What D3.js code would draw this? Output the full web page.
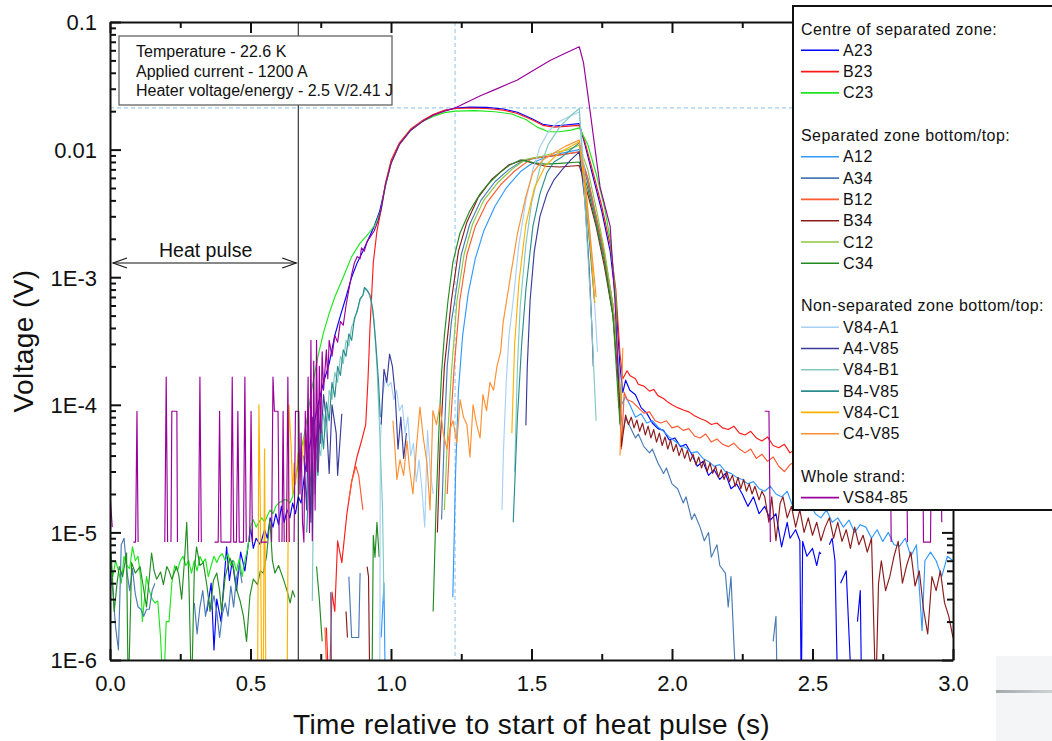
<!DOCTYPE html>
<html><head><meta charset="utf-8">
<script src="https://cdn.jsdelivr.net/npm/d3@7"></script>
<style>
body{margin:0;background:#fff}
svg{display:block}
text{font-family:"Liberation Sans",Arial,Helvetica,sans-serif;fill:#111}
</style>
</head><body>
<svg id="chart" width="1052" height="741"></svg>
<script>
// ---------------- DATA ([time s, voltage V], null = gap) ----------------
const A23 = [[0.345,2.4e-6],[0.36,4e-6],[0.37,1.2e-6],[0.38,3e-6],[0.395,2e-6],[0.415,7.7e-6],[0.425,4.2e-6],[0.435,6e-6],[0.45,3.5e-6],[0.465,7e-6],[0.48,5e-6],[0.5,1.1e-5],[0.51,7.5e-6],[0.52,9e-6],[0.535,8e-6],[0.55,1.05e-5],[0.56,9e-6],[0.57,1.3e-5],[0.58,1.1e-5],[0.59,1.4e-5],[0.6,1.15e-5],[0.61,1.6e-5],[0.62,1.2e-5],[0.63,1.5e-5],[0.64,1.3e-5],[0.65,1.7e-5],[0.66,1.4e-5],[0.67,1.9e-5],[0.68,1.7e-5],[0.69,2.6e-5],[0.7,3.7e-5],[0.72,6e-5],[0.735,9e-5],[0.76,1.5e-4],[0.78,2.1e-4],[0.8,3.5e-4],[0.82,5e-4],[0.84,7e-4],[0.86,1.0e-3],[0.88,1.3e-3],[0.9,1.6e-3],[0.92,2.0e-3],[0.94,2.5e-3],[0.96,3.3e-3],[0.98,5.2e-3],[1.0,7.8e-3],[1.03,1.1e-2],[1.07,1.42e-2],[1.11,1.65e-2],[1.15,1.87e-2],[1.19,2.02e-2],[1.23,2.12e-2],[1.28,2.15e-2],[1.34,2.14e-2],[1.4,2.08e-2],[1.45,1.96e-2],[1.5,1.75e-2],[1.54,1.58e-2],[1.58,1.53e-2],[1.62,1.56e-2],[1.67,1.6e-2],[1.69,1.1e-2],[1.72,6e-3],[1.75,3.3e-3],[1.78,1.6e-3],[1.8,6.6e-4],[1.815,2e-4],[1.825,1.25e-4],[1.835,1.56e-4],[1.85,1.3e-4],[1.87,1.2e-4],[1.89,9.5e-5],[1.91,8.6e-5],[1.93,7.2e-5],[1.95,6.5e-5],[1.97,6.3e-5],[1.99,5.3e-5],[2.01,5.5e-5],[2.03,4.7e-5],[2.05,4.9e-5],[2.07,4.1e-5],[2.09,3.3e-5],[2.11,3.6e-5],[2.13,2.8e-5],[2.15,3.1e-5],[2.17,2.6e-5],[2.19,2.9e-5],[2.21,2.2e-5],[2.23,2.4e-5],[2.25,2e-5],[2.27,1.6e-5],[2.29,1.9e-5],[2.31,1.4e-5],[2.33,1.6e-5],[2.35,1.25e-5],[2.37,1.4e-5],[2.39,7.7e-6],[2.41,1.2e-5],[2.42,9e-6],[2.44,1.05e-5],[2.455,8.6e-6],[2.46,5e-7],[2.465,8.5e-6],[2.48,6.5e-6],[2.5,7.5e-6],[2.515,5.5e-6],[2.525,7e-6],[2.53,6.8e-6],null,[2.56,8e-6],[2.57,9e-6],[2.58,6e-6],[2.59,5e-7],null,[2.6,4e-6],[2.62,5e-6],[2.64,5e-7],null,[2.66,2e-6],[2.67,3.5e-6],[2.675,5e-7]];

const B23 = [[0.77,1.8e-6],[0.78,5e-7],[0.79,3.4e-6],[0.8,2.4e-6],[0.81,8.6e-6],[0.825,5.8e-6],[0.843,1.4e-5],[0.86,2.5e-5],[0.879,3.9e-5],[0.896,5.3e-5],[0.91,7e-5],[0.918,1.56e-4],[0.925,3.9e-4],[0.937,1.3e-3],[0.95,2.3e-3],[0.965,3.4e-3],[0.98,5.4e-3],[1.0,8.2e-3],[1.03,1.13e-2],[1.07,1.45e-2],[1.11,1.68e-2],[1.15,1.88e-2],[1.19,2.03e-2],[1.23,2.1e-2],[1.28,2.12e-2],[1.34,2.1e-2],[1.4,2.04e-2],[1.45,1.92e-2],[1.5,1.72e-2],[1.54,1.55e-2],[1.58,1.5e-2],[1.62,1.52e-2],[1.67,1.55e-2],[1.69,1.15e-2],[1.72,6.5e-3],[1.75,3.6e-3],[1.78,1.8e-3],[1.8,8e-4],[1.815,2.5e-4],[1.825,1.6e-4],[1.84,1.85e-4],[1.85,1.7e-4],[1.87,1.6e-4],[1.88,1.45e-4],[1.9,1.4e-4],[1.92,1.28e-4],[1.935,1.32e-4],[1.95,1.18e-4],[1.97,1.12e-4],[1.985,1.05e-4],[2.0,1.0e-4],[2.02,9.5e-5],[2.04,9.1e-5],[2.06,8.8e-5],[2.08,8.2e-5],[2.1,7.8e-5],[2.12,7.5e-5],[2.14,7.0e-5],[2.16,7.2e-5],[2.18,6.6e-5],[2.2,6.4e-5],[2.22,6.8e-5],[2.24,6.0e-5],[2.26,5.8e-5],[2.28,6.2e-5],[2.3,5.5e-5],[2.32,5.2e-5],[2.34,5.6e-5],[2.36,4.8e-5],[2.38,4.6e-5],[2.4,4.9e-5],[2.42,4.2e-5],[2.44,4.5e-5],[2.47,4.0e-5],[2.55,3.7e-5],[2.65,3.4e-5],[2.75,3.2e-5],[2.85,3.0e-5],[2.95,2.8e-5],[3.0,2.7e-5]];

const C23 = [[0.0,5.7e-6],[0.01,4.5e-6],[0.02,6e-6],[0.03,5e-6],[0.04,4e-6],[0.05,6.5e-6],[0.06,5.5e-6],[0.07,5.2e-6],[0.08,7.7e-6],[0.09,6e-6],[0.1,6.5e-6],[0.11,4.2e-6],[0.115,2e-6],[0.13,4.5e-6],[0.14,3.5e-6],[0.15,3e-6],[0.16,2.8e-6],[0.17,2.9e-6],[0.18,1.5e-6],[0.19,5e-7],[0.2,2e-6],[0.21,2e-6],[0.22,4e-6],[0.23,5.5e-6],[0.24,5e-6],[0.25,6e-6],[0.26,6.5e-6],[0.27,5.5e-6],[0.28,6e-6],[0.29,4.8e-6],[0.3,6e-6],[0.31,5e-6],[0.32,6.5e-6],[0.33,5.8e-6],[0.34,6.2e-6],[0.35,4.5e-6],[0.36,5.5e-6],[0.37,6.5e-6],[0.38,5.8e-6],[0.39,6.5e-6],[0.4,6.8e-6],[0.41,6e-6],[0.42,6.8e-6],[0.43,5.5e-6],[0.44,6e-6],[0.45,5e-6],[0.46,6.2e-6],[0.47,4.5e-6],[0.48,6e-6],[0.49,7.5e-6],[0.5,1.1e-5],[0.51,1.26e-5],[0.52,1.1e-5],[0.53,1.2e-5],[0.54,1.3e-5],[0.55,1.2e-5],[0.56,1.35e-5],[0.57,1.5e-5],[0.58,1.4e-5],[0.59,1.6e-5],[0.6,1.7e-5],[0.61,1.75e-5],[0.62,1.8e-5],[0.63,1.8e-5],[0.64,1.7e-5],[0.65,1.9e-5],[0.66,2.6e-5],[0.67,3.5e-5],[0.68,4.5e-5],[0.69,5.6e-5],[0.7,7.5e-5],[0.72,1.4e-4],[0.74,2.4e-4],[0.76,3.7e-4],[0.78,5.2e-4],[0.8,7e-4],[0.83,1.0e-3],[0.86,1.45e-3],[0.89,1.85e-3],[0.92,2.2e-3],[0.945,2.6e-3],[0.965,3.4e-3],[0.98,5.2e-3],[1.0,7.8e-3],[1.03,1.1e-2],[1.07,1.42e-2],[1.11,1.65e-2],[1.15,1.82e-2],[1.19,1.95e-2],[1.23,2.0e-2],[1.3,2.02e-2],[1.37,1.98e-2],[1.43,1.9e-2],[1.48,1.72e-2],[1.52,1.5e-2],[1.56,1.38e-2],[1.6,1.38e-2],[1.64,1.42e-2],[1.67,1.48e-2],[1.7,1.1e-2],[1.73,6.5e-3],[1.76,3.5e-3],[1.78,2e-3],[1.8,7e-4],[1.81,9.4e-5]];

const A12 = [[0.965,1.5e-6],[0.975,4e-6],[0.98,5e-7],null,[1.22,3.1e-6],[1.23,3e-5],[1.24,1.3e-4],[1.255,3.5e-4],[1.275,7.5e-4],[1.3,1.4e-3],[1.33,2.3e-3],[1.37,3.6e-3],[1.41,5e-3],[1.46,6.7e-3],[1.505,7.9e-3],[1.55,8.7e-3],[1.6,9.3e-3],[1.67,1.0e-2],[1.7,6e-3],[1.73,3e-3],[1.76,1.5e-3],[1.79,6e-4],[1.81,2e-4],[1.82,1e-4],[1.835,1.16e-4],[1.85,1.0e-4],[1.87,8e-5],[1.89,8.5e-5],[1.91,7.2e-5],[1.93,7.5e-5],[1.95,6.7e-5],[1.97,6.2e-5],[1.99,5.6e-5],[2.01,5.2e-5],[2.03,4.8e-5],[2.05,4.6e-5],[2.07,4.2e-5],[2.09,4.3e-5],[2.11,3.8e-5],[2.13,3.6e-5],[2.15,3.3e-5],[2.17,3.4e-5],[2.19,3e-5],[2.21,2.9e-5],[2.23,2.7e-5],[2.25,2.6e-5],[2.27,2.4e-5],[2.29,2.5e-5],[2.31,2.2e-5],[2.33,2.1e-5],[2.35,2.3e-5],[2.37,2.0e-5],[2.39,1.9e-5],[2.41,2.1e-5],[2.43,1.6e-5],[2.45,1.8e-5],[2.47,1.5e-5],[2.49,1.7e-5],[2.51,1.4e-5],[2.53,1.3e-5],[2.55,1.5e-5],[2.57,1.2e-5],[2.59,1.3e-5],[2.61,1.1e-5],[2.63,1.25e-5],[2.65,1.0e-5],[2.67,1.15e-5],[2.69,1.1e-5],[2.71,9e-6],[2.73,1.05e-5],[2.75,8.5e-6],[2.77,1e-5],[2.79,8e-6],[2.81,7.8e-6],[2.83,9e-6],[2.85,6.5e-6],[2.87,8e-6],[2.89,1.7e-6],[2.9,6e-6],[2.92,7e-6],[2.94,6e-6],[2.96,4.5e-6],[2.98,6.5e-6],[3.0,6e-6]];

const A34 = [[0.0,5e-6],[0.01,3.5e-6],[0.02,1.8e-6],[0.03,1.2e-6],[0.04,8e-6],[0.05,9e-6],[0.06,5e-6],[0.07,3.5e-6],[0.08,5.2e-6],[0.09,3.3e-6],[0.1,2.6e-6],[0.11,2.5e-6],[0.12,2.2e-6],[0.13,2.5e-6],[0.14,2.5e-6],[0.15,3.5e-6],[0.16,4e-6],null,[0.3,2.8e-6],[0.31,1.6e-6],[0.32,2.6e-6],[0.33,3.5e-6],[0.34,2.2e-6],[0.35,3e-6],[0.36,2.5e-6],[0.37,3.2e-6],[0.38,2.4e-6],[0.39,1.5e-6],[0.4,2.3e-6],[0.41,2.8e-6],[0.42,2.2e-6],[0.43,3.8e-6],[0.44,2.6e-6],[0.45,4.4e-6],[0.46,5.5e-6],[0.47,4e-6],null,[0.785,3.4e-6],[0.79,5e-7],null,[0.85,4.5e-6],[0.86,1.5e-6],[0.875,1.5e-6],[0.885,1.5e-6],[0.89,4.8e-6],null,[1.18,1.26e-5],[1.19,6e-5],[1.2,2e-4],[1.215,4.5e-4],[1.227,6.6e-4],[1.25,1.5e-3],[1.28,2.6e-3],[1.32,4e-3],[1.37,5.6e-3],[1.42,7e-3],[1.47,8.2e-3],[1.52,8.6e-3],[1.57,8.9e-3],[1.62,9.2e-3],[1.67,9.6e-3],[1.7,5.5e-3],[1.73,2.8e-3],[1.76,1.4e-3],[1.79,5e-4],[1.81,1.5e-4],[1.825,6e-5],[1.835,7.9e-5],[1.85,6.8e-5],[1.87,5.5e-5],[1.88,5.9e-5],[1.9,4.7e-5],[1.92,4.2e-5],[1.93,4.5e-5],[1.95,3.5e-5],[1.97,2.9e-5],[1.98,3.2e-5],[2.0,2.4e-5],[2.02,2.2e-5],[2.04,1.7e-5],[2.05,1.9e-5],[2.07,1.26e-5],[2.08,1.4e-5],[2.1,1.1e-5],[2.115,8.6e-6],[2.13,1e-5],[2.14,6.4e-6],[2.16,8e-6],[2.17,5.5e-6],[2.19,4.8e-6],[2.2,2.6e-6],[2.21,4.5e-6],[2.22,1.4e-6],[2.23,5e-7],null,[2.36,1.4e-6],[2.37,2.2e-6],[2.375,5e-7]];

const B12 = [[0.765,1.8e-6],[0.775,5e-7],null,[0.85,1.8e-5],[0.86,2.5e-5],[0.875,3.3e-5],[0.885,2.8e-5],[0.9,1.5e-5],null,[1.2,2e-5],[1.21,6e-5],[1.225,2e-4],[1.245,6.6e-4],[1.27,1.5e-3],[1.3,2.5e-3],[1.34,3.8e-3],[1.39,5.3e-3],[1.44,6.8e-3],[1.5,8.5e-3],[1.55,8.8e-3],[1.6,9.1e-3],[1.67,9.6e-3],[1.7,6e-3],[1.73,3e-3],[1.76,1.5e-3],[1.79,6e-4],[1.81,1.5e-4],[1.82,4.5e-5],[1.83,1.25e-4],[1.84,1.1e-4],[1.86,1.05e-4],[1.88,9.5e-5],[1.9,8.6e-5],[1.92,8.8e-5],[1.94,7.5e-5],[1.96,7.2e-5],[1.98,7.5e-5],[2.0,6.6e-5],[2.02,6.8e-5],[2.04,6.3e-5],[2.06,6.5e-5],[2.08,5.7e-5],[2.1,5.5e-5],[2.12,5.9e-5],[2.14,5.1e-5],[2.16,5.4e-5],[2.18,4.9e-5],[2.2,4.7e-5],[2.22,5e-5],[2.24,4.5e-5],[2.26,4.2e-5],[2.28,4.5e-5],[2.3,3.8e-5],[2.32,4.1e-5],[2.34,3.6e-5],[2.36,3.9e-5],[2.38,3.3e-5],[2.4,3.0e-5],[2.42,3.4e-5],[2.44,3.6e-5],[2.6,3e-5],[2.8,2.6e-5],[3.0,2.3e-5]];

const B34 = [[0.84,2.4e-6],[0.845,1.5e-6],null,[0.915,5.4e-6],[0.92,4.5e-6],[0.925,5e-7],null,[1.165,1e-5],[1.175,5e-5],[1.19,2e-4],[1.215,6.6e-4],[1.24,1.6e-3],[1.27,2.7e-3],[1.31,4.2e-3],[1.36,5.9e-3],[1.42,7.6e-3],[1.47,8.3e-3],[1.51,7.8e-3],[1.55,7.4e-3],[1.6,7.3e-3],[1.67,7.5e-3],[1.7,4.5e-3],[1.73,2.5e-3],[1.76,1.2e-3],[1.79,5e-4],[1.81,1.5e-4],[1.82,4.7e-5],[1.835,8.3e-5],[1.845,7e-5],[1.855,8e-5],[1.865,6.6e-5],[1.875,7.6e-5],[1.885,6.2e-5],[1.895,7.2e-5],[1.905,5.8e-5],[1.915,6.8e-5],[1.925,5.5e-5],[1.935,6.4e-5],[1.945,5.1e-5],[1.955,6e-5],[1.965,4.8e-5],[1.975,5.6e-5],[1.985,4.5e-5],[1.995,5.3e-5],[2.005,4.3e-5],[2.015,4.9e-5],[2.025,4.0e-5],[2.035,4.6e-5],[2.045,3.8e-5],[2.055,4.4e-5],[2.065,3.6e-5],[2.075,4.1e-5],[2.085,3.4e-5],[2.095,3.9e-5],[2.105,3.2e-5],[2.115,3.7e-5],[2.125,3.0e-5],[2.135,3.5e-5],[2.145,2.9e-5],[2.155,3.3e-5],[2.165,2.7e-5],[2.175,3.1e-5],[2.185,2.6e-5],[2.195,3e-5],[2.205,2.5e-5],[2.215,2.8e-5],[2.225,2.3e-5],[2.235,2.7e-5],[2.245,2.2e-5],[2.255,2.6e-5],[2.265,2.1e-5],[2.275,2.4e-5],[2.285,2.0e-5],[2.295,2.3e-5],[2.31,1.8e-5],[2.32,2.1e-5],[2.33,1.9e-5],[2.345,1.2e-5],[2.355,1.9e-5],[2.37,8.6e-6],[2.385,1.7e-5],[2.395,1.9e-5],[2.41,1.3e-5],[2.425,1.6e-5],[2.44,1.1e-5],[2.455,1.5e-5],[2.47,1.0e-5],[2.485,1.3e-5],[2.5,9.5e-6],[2.515,1.2e-5],[2.53,8.6e-6],[2.545,1.1e-5],[2.56,1.3e-5],[2.575,9e-6],[2.59,1.2e-5],[2.605,8.5e-6],[2.62,1.05e-5],[2.635,7.5e-6],[2.65,1.1e-5],[2.665,8e-6],[2.68,9.5e-6],[2.695,7e-6],[2.71,9e-6],[2.725,5e-7],[2.735,4e-6],[2.745,6e-6],[2.76,3.5e-6],[2.775,4.5e-6],[2.79,6.5e-6],[2.805,8.5e-6],[2.82,4e-6],[2.835,5.5e-6],[2.85,7e-6],[2.865,3.8e-6],[2.88,5e-6],[2.895,2.5e-6],[2.91,1.6e-6],[2.925,4.5e-6],[2.94,3.5e-6],[2.955,5e-6],[2.97,2.8e-6],[2.985,2.2e-6],[3.0,1.5e-6]];

const C12 = [[1.19,1.5e-5],[1.2,5e-5],[1.215,1.8e-4],[1.235,6.6e-4],[1.26,1.5e-3],[1.29,2.6e-3],[1.33,4e-3],[1.38,5.5e-3],[1.43,7e-3],[1.48,8.4e-3],[1.53,8.8e-3],[1.58,9.4e-3],[1.63,1.0e-2],[1.67,1.08e-2],[1.7,7e-3],[1.73,3.5e-3],[1.76,1.6e-3],[1.79,6e-4],[1.81,1.8e-4],[1.82,1e-4]];

const C34 = [[0.0,3e-6],[0.004,6.9e-6],[0.015,2.4e-6],[0.025,4e-6],[0.033,5.4e-6],[0.045,4.5e-6],[0.059,6.9e-6],[0.065,5e-7],[0.077,5.8e-6],[0.09,4.8e-6],[0.107,5.4e-6],[0.118,3.8e-6],[0.13,2.6e-6],[0.148,6.9e-6],[0.157,5e-6],[0.166,4.3e-6],[0.18,4.9e-6],[0.19,3.9e-6],[0.202,5.4e-6],[0.21,5e-6],[0.22,4.3e-6],[0.237,5.4e-6],[0.245,4.6e-6],[0.255,3e-6],[0.265,6e-6],[0.273,1.2e-5],[0.281,4e-6],[0.29,5e-7],[0.3,5e-6],[0.308,7.7e-6],[0.32,5.5e-6],[0.332,5.8e-6],[0.345,3.8e-6],[0.356,2.4e-6],[0.368,4.2e-6],[0.38,4.8e-6],[0.39,3.5e-6],[0.397,2.4e-6],[0.41,4.5e-6],[0.427,6.3e-6],[0.44,5.2e-6],[0.452,3.5e-6],[0.463,2.9e-6],[0.475,2.2e-6],[0.486,1.4e-6],[0.498,3.2e-6],[0.51,4.3e-6],[0.525,3.9e-6],[0.535,5e-6],[0.545,4.8e-6],[0.557,6.5e-6],[0.569,1.26e-5],[0.578,6e-6],[0.587,4.8e-6],[0.6,5.5e-6],[0.617,4.3e-6],[0.63,3.5e-6],[0.641,2.8e-6],[0.65,3.5e-6],[0.658,3.1e-6],null,[0.735,5.4e-6],[0.745,3e-6],[0.755,1.4e-6],null,[0.932,5e-7],[0.937,9.5e-6],[0.943,6.4e-6],[0.95,1.2e-5],[0.958,6.4e-6],null,[1.15,2.4e-6],[1.16,1.5e-5],[1.17,6e-5],[1.18,1.8e-4],[1.19,3.5e-4],[1.203,6.6e-4],[1.22,1.3e-3],[1.245,2.2e-3],[1.28,3.3e-3],[1.317,4.5e-3],[1.35,5.5e-3],[1.388,6.6e-3],[1.42,7.5e-3],[1.46,8.3e-3],[1.505,7.9e-3],[1.55,7.7e-3],[1.6,7.8e-3],[1.67,8e-3],[1.7,5e-3],[1.73,2.6e-3],[1.76,1.3e-3],[1.79,5e-4],[1.805,1.5e-4],[1.815,7e-5]];

const V84_A1 = [[0.96,5e-7],[0.962,5e-5],[0.97,1.2e-4],[0.98,1.6e-4],[0.99,1.4e-4],[1.0,1.5e-4],[1.01,1.1e-4],[1.02,1.3e-4],[1.03,9e-5],[1.04,1.0e-4],[1.05,6e-5],[1.06,8e-5],[1.07,4e-5],[1.08,5e-5],[1.09,2.5e-5],[1.1,3.7e-5],[1.11,2.2e-5],[1.12,1.1e-5],[1.13,6.3e-5],[1.14,3e-5],[1.15,2e-5],null,[1.395,1.5e-5],[1.4,4.2e-5],[1.41,1.5e-4],[1.42,3.5e-4],[1.435,6.6e-4],[1.455,1.8e-3],[1.48,4e-3],[1.505,7e-3],[1.53,1.05e-2],[1.56,1.38e-2],[1.59,1.62e-2],[1.63,1.8e-2],[1.66,1.93e-2],[1.67,1.97e-2],[1.69,6e-3],[1.71,1.8e-3],[1.725,6e-4],[1.735,2.6e-4]];

const A4_V85 = [[0.69,4e-5],[0.7,1.5e-5],[0.705,6e-5],[0.715,1.2e-5],[0.72,8e-5],[0.73,3e-5],[0.74,1e-4],[0.75,5e-5],[0.76,1.2e-4],[0.77,7.5e-5],[0.78,2.9e-5],[0.79,1e-4],[0.805,6e-5],[0.81,2.8e-5],[0.825,8.5e-5],null,[0.965,7e-5],[0.975,1.9e-4],[0.985,1.5e-4],[0.995,2.5e-4],[1.005,2e-4],[1.015,1.2e-4],[1.025,4.5e-5],[1.035,8e-5],[1.045,3.8e-5],[1.055,6e-5],null,[1.48,6.9e-5],[1.485,2e-4],[1.495,6.6e-4],[1.51,1.6e-3],[1.53,3e-3],[1.555,4.5e-3],[1.58,5.8e-3],[1.61,7e-3],[1.64,8.3e-3],[1.67,9.6e-3],[1.69,4e-3],[1.705,1.2e-3],[1.715,4e-4],[1.72,2e-4]];

const V84_B1 = [[0.72,2.9e-6],[0.725,3e-5],[0.73,2e-5],[0.74,5e-5],[0.75,4e-5],[0.76,8.5e-5],[0.77,6e-5],[0.78,1.3e-4],[0.79,1.1e-4],[0.8,1.8e-4],[0.81,1.5e-4],[0.82,2.4e-4],[0.83,2.1e-4],[0.84,3.2e-4],[0.85,2.9e-4],[0.86,4.1e-4],[0.87,4.6e-4],[0.88,5.6e-4],[0.89,6.6e-4],[0.9,7.3e-4],[0.91,8.2e-4],[0.92,7.5e-4],[0.93,6.5e-4],[0.94,4.5e-4],[0.95,2e-4],[0.96,6e-5],[0.97,1.5e-5],[0.975,2.9e-6],null,[1.44,3e-5],[1.45,2e-4],[1.46,6e-4],[1.48,1.8e-3],[1.5,3.8e-3],[1.53,7.2e-3],[1.56,1.1e-2],[1.6,1.5e-2],[1.64,1.85e-2],[1.67,2.1e-2],[1.685,6e-3],[1.7,1.6e-3],[1.715,4e-4],[1.73,7.5e-5]];

const B4_V85 = [[0.7,1e-5],[0.71,3.5e-5],[0.72,1.5e-5],[0.73,5.5e-5],[0.74,2.8e-5],[0.75,7.5e-5],[0.76,4.5e-5],[0.77,1.05e-4],[0.78,7.5e-5],[0.79,1.5e-4],[0.8,1.15e-4],[0.81,2e-4],[0.82,1.7e-4],[0.83,2.7e-4],[0.84,2.4e-4],[0.85,3.6e-4],[0.86,3.2e-4],[0.87,4.8e-4],[0.88,5.4e-4],[0.89,6.8e-4],[0.9,7.2e-4],[0.905,8.3e-4],[0.915,7.9e-4],[0.925,7.3e-4],[0.935,5.6e-4],[0.945,3.2e-4],[0.955,1.6e-4],[0.962,8e-5],null,[1.435,1.2e-5],[1.45,8e-5],[1.465,3e-4],[1.48,8e-4],[1.505,2.5e-3],[1.53,4.5e-3],[1.555,6.6e-3],[1.58,8e-3],[1.61,8.8e-3],[1.64,1e-2],[1.67,1.13e-2],[1.69,5e-3],[1.71,1.5e-3],[1.725,6.3e-4]];

const V84_C1 = [[0.525,5e-7],[0.53,1e-4],[0.535,1.5e-5],[0.54,5e-7],null,[0.545,5e-7],[0.55,4.5e-5],[0.555,5e-7],null,[0.63,5e-7],[0.637,1e-4],[0.645,4.5e-5],[0.65,2e-5],[0.655,3.5e-5],[0.66,2.4e-5],[0.67,4.2e-5],[0.68,3e-5],[0.69,5.5e-5],[0.7,4e-5],null,[1.43,6e-5],[1.44,3e-4],[1.455,9e-4],[1.48,2.6e-3],[1.51,5e-3],[1.55,7.5e-3],[1.6,9.5e-3],[1.67,1.15e-2],[1.69,5e-3],[1.71,1.8e-3],[1.725,6.3e-4]];

const C4_V85 = [[1.007,7.5e-5],[1.014,4.5e-5],[1.021,2.6e-5],[1.032,3.7e-5],[1.045,2.8e-5],[1.057,5.2e-5],[1.065,3.3e-5],[1.078,2e-5],[1.09,4.5e-5],[1.103,9.6e-5],[1.115,5.5e-5],[1.128,3.5e-5],[1.139,1.5e-5],[1.149,9e-5],[1.162,7e-5],[1.174,1e-4],[1.186,6e-5],[1.199,4.5e-5],[1.21,6.5e-5],[1.221,7.5e-5],[1.234,5e-5],[1.246,1.1e-4],[1.258,8e-5],[1.27,7e-5],[1.281,3.9e-5],[1.292,1e-4],[1.305,7e-5],[1.317,5.5e-5],[1.327,1.2e-4],[1.34,9e-5],[1.352,1.5e-4],[1.365,1.3e-4],[1.377,2e-4],[1.39,2.6e-4],[1.399,4.4e-4],[1.423,9.5e-4],[1.45,2.2e-3],[1.48,4.3e-3],[1.505,6.6e-3],[1.54,8.3e-3],[1.58,9.4e-3],[1.62,1.06e-2],[1.67,1.19e-2],[1.69,6e-3],[1.71,2e-3],[1.73,7e-4],null,[1.815,4e-5],[1.825,2.8e-4]];

const VS84_85 = [[0.0,2e-5],[0.008,1.1e-5],null,
 [0.083,8.4e-6],[0.091,8.4e-6],[0.096,8.9e-5],[0.1,8.4e-6],null,
 [0.195,8.4e-6],[0.2,1.65e-4],[0.205,8.4e-6],null,
 [0.217,8.4e-6],[0.22,8.9e-5],[0.238,8.9e-5],[0.24,8.4e-6],null,
 [0.315,8.4e-6],[0.32,1.65e-4],[0.325,8.4e-6],null,
 [0.372,8.4e-6],[0.385,8.4e-6],[0.39,8.9e-5],[0.395,8.4e-6],[0.43,8.4e-6],[0.435,1.65e-4],[0.44,8.4e-6],[0.45,8.4e-6],[0.455,8.9e-5],[0.46,8.4e-6],[0.475,8.4e-6],[0.48,1.65e-4],[0.485,8.4e-6],null,
 [0.497,8.4e-6],[0.502,8.9e-5],[0.507,8.4e-6],null,
 [0.535,8.4e-6],[0.56,8.4e-6],null,
 [0.575,8.4e-6],[0.58,1.65e-4],[0.585,8.9e-5],[0.598,8.9e-5],[0.602,8.4e-6],null,
 [0.612,8.4e-6],[0.616,8.9e-5],[0.62,8.4e-6],null,
 [0.628,8.4e-6],[0.633,1.65e-4],[0.638,8.4e-6],null,
 [0.655,8.4e-6],[0.66,8.9e-5],[0.672,8.9e-5],[0.676,2e-5],[0.68,6e-5],[0.685,1.2e-5],[0.69,8.4e-6],[0.695,8.9e-5],[0.7,3e-5],[0.705,1.65e-4],[0.71,1e-5],[0.715,3.2e-4],[0.72,8.6e-6],[0.725,2.2e-4],[0.73,1.5e-5],[0.735,3.2e-4],[0.74,3e-5],[0.745,2e-4],[0.75,6e-5],[0.755,2.6e-4],[0.76,1.3e-4],[0.77,2.7e-4],[0.775,1.6e-4],[0.78,3.2e-4],[0.79,2.4e-4],[0.8,3.5e-4],[0.81,3.1e-4],[0.82,4.5e-4],[0.83,4.2e-4],[0.84,6e-4],[0.85,8e-4],[0.86,1.05e-3],[0.87,1.3e-3],[0.88,1.45e-3],[0.89,1.4e-3],[0.895,1.7e-3],[0.905,1.6e-3],[0.915,1.9e-3],[0.925,2.05e-3],[0.94,2.3e-3],[0.955,2.8e-3],[0.965,3.4e-3],[0.98,5.3e-3],[1.0,7.8e-3],[1.03,1.1e-2],[1.07,1.42e-2],[1.11,1.65e-2],[1.15,1.86e-2],[1.19,2.0e-2],[1.228,2.12e-2],[1.27,2.35e-2],[1.32,2.65e-2],[1.37,2.95e-2],[1.42,3.3e-2],[1.448,3.5e-2],[1.5,4.1e-2],[1.566,5.0e-2],[1.62,5.7e-2],[1.67,6.4e-2],[1.685,4.8e-2],[1.708,2.04e-2],[1.744,5.1e-3],[1.78,2.5e-3],[1.797,6.6e-4],[1.81,1.5e-4],null,
 [2.33,8.9e-5],[2.345,8.9e-5],[2.35,8.4e-6],null,
 [2.775,1.65e-4],[2.78,8.4e-6],null,
 [2.833,1.65e-4],[2.838,8.4e-6],null,
 [2.89,1.65e-4],[2.895,8.4e-6],[2.92,8.4e-6],[2.925,1.65e-4],null,
 [2.955,1.65e-4],[2.96,1.2e-5]];

// axis ticks and labels
const xTicks = [0, 0.5, 1.0, 1.5, 2.0, 2.5, 3.0];
const xTickLabels = ["0.0","0.5","1.0","1.5","2.0","2.5","3.0"];
const yTicks = [1e-6, 1e-5, 1e-4, 1e-3, 1e-2, 1e-1];
const yTickLabels = ["1E-6","1E-5","1E-4","1E-3","0.01","0.1"];

// markers on the chart
const heatPulseEnd = 0.67;
const guideTime = 1.228;
const guideVolt = 0.0212;
const infoLines = ["Temperature - 22.6 K","Applied current - 1200 A","Heater voltage/energy - 2.5 V/2.41 J"];

// series meta (legend order)
const seriesNames  = ["A23","B23","C23","A12","A34","B12","B34","C12","C34","V84-A1","A4-V85","V84-B1","B4-V85","V84-C1","C4-V85","VS84-85"];
const seriesColors = ["#0000ff","#ff1a1a","#1ee61e","#3399ff","#4a7ab4","#ff5a30","#8b1a1a","#8cc63e","#228b22","#a8d0f4","#3a3a9a","#80c9c1","#2a8c8c","#ffb000","#ff9030","#990099"];
const seriesData   = [A23,B23,C23,A12,A34,B12,B34,C12,C34,V84_A1,A4_V85,V84_B1,B4_V85,V84_C1,C4_V85,VS84_85];
const legendGroups = [
  ["Centre of separated zone:", 0, 3],
  ["Separated zone bottom/top:", 3, 9],
  ["Non-separated zone bottom/top:", 9, 15],
  ["Whole strand:", 15, 16]
];

// ---------------- DRAWING ----------------
const svg = d3.select("#chart");
const L=110, R=953, T=22, B=660;
const x = d3.scaleLinear().domain([0,3]).range([L,R]);
const y = d3.scaleLog().domain([1e-6,0.1]).range([B,T]);

svg.append("rect").attr("width",1052).attr("height",741).attr("fill","#fff");

// photo artefact bottom-right
const defs = svg.append("defs");
const grad = defs.append("linearGradient").attr("id","ag").attr("x1",0).attr("x2",1);
grad.append("stop").attr("offset","0").attr("stop-color","#8e979b");
grad.append("stop").attr("offset","1").attr("stop-color","#c4cacd");
svg.append("rect").attr("x",996).attr("y",656).attr("width",56).attr("height",85).attr("fill","#f3f5f6");
svg.append("rect").attr("x",996).attr("y",690).attr("width",56).attr("height",3).attr("fill","url(#ag)").attr("opacity",0.8);

defs.append("clipPath").attr("id","clip").append("rect")
  .attr("x",L).attr("y",T).attr("width",R-L).attr("height",B-T);

// guide lines
svg.append("line").attr("x1",x(guideTime)).attr("x2",x(guideTime)).attr("y1",T).attr("y2",B)
  .attr("stroke","#9fcdf2").attr("stroke-width",1.2).attr("stroke-dasharray","4,3");
svg.append("line").attr("x1",L).attr("x2",1052).attr("y1",y(guideVolt)).attr("y2",y(guideVolt))
  .attr("stroke","#9fcdf2").attr("stroke-width",1.2).attr("stroke-dasharray","4,3");

// series
const line = d3.line().defined(d => d !== null).x(d => x(d[0])).y(d => y(d[1]));
const gLines = svg.append("g").attr("clip-path","url(#clip)");
seriesData.forEach((d,i) => {
  gLines.append("path").attr("d", line(d)).attr("fill","none")
    .attr("stroke", seriesColors[i]).attr("stroke-width",1.15).attr("stroke-linejoin","round");
});

// heat pulse end line
svg.append("line").attr("x1",x(heatPulseEnd)).attr("x2",x(heatPulseEnd)).attr("y1",T).attr("y2",B)
  .attr("stroke","#111").attr("stroke-width",1);

// heat pulse arrow
const ay = 263, ax1 = x(0)+3, ax2 = x(heatPulseEnd)-2;
const ag = svg.append("g").attr("stroke","#111").attr("stroke-width",1.1).attr("fill","none");
ag.append("line").attr("x1",ax1).attr("x2",ax2).attr("y1",ay).attr("y2",ay);
ag.append("path").attr("d",`M${ax1+14},${ay-5}L${ax1},${ay}L${ax1+14},${ay+5}`);
ag.append("path").attr("d",`M${ax2-14},${ay-5}L${ax2},${ay}L${ax2-14},${ay+5}`);
svg.append("text").attr("x",(ax1+ax2)/2+1).attr("y",257).attr("text-anchor","middle")
  .attr("font-size",19.5).text("Heat pulse");

// info box
svg.append("rect").attr("x",119).attr("y",36).attr("width",273).attr("height",69)
  .attr("fill","#fff").attr("stroke","#555").attr("stroke-width",1.2);
infoLines.forEach((s,i) => svg.append("text").attr("x",136).attr("y",57+i*19.5)
  .attr("font-size",16).text(s));

// axes
function styleAxis(g){
  g.selectAll(".domain").attr("stroke","#111").attr("stroke-width",2);
  g.selectAll(".tick line").attr("stroke","#111").attr("stroke-width",2);
  g.selectAll(".tick text").attr("font-size",22).attr("fill","#111")
    .attr("font-family","'Liberation Sans',Arial,sans-serif");
}
const yMinor = [];
for (let e=-6; e<-1; e++) for (let m=2; m<10; m++) yMinor.push(m*Math.pow(10,e));
const xMinor = [0.25,0.75,1.25,1.75,2.25,2.75];

const gyL = svg.append("g").attr("transform",`translate(${L},0)`)
  .call(d3.axisLeft(y).tickValues(yTicks).tickSizeInner(-11).tickSizeOuter(0).tickPadding(13)
    .tickFormat((d,i)=>yTickLabels[i]));
styleAxis(gyL);
gyL.selectAll(".tick text").attr("dy","0.36em");
const gyLm = svg.append("g").attr("transform",`translate(${L},0)`)
  .call(d3.axisLeft(y).tickValues(yMinor).tickSizeInner(-6).tickSizeOuter(0).tickFormat(""));
styleAxis(gyLm); gyLm.select(".domain").remove();

const gyR = svg.append("g").attr("transform",`translate(${R},0)`)
  .call(d3.axisRight(y).tickValues(yTicks).tickSizeInner(-11).tickSizeOuter(0).tickFormat(""));
styleAxis(gyR);
const gyRm = svg.append("g").attr("transform",`translate(${R},0)`)
  .call(d3.axisRight(y).tickValues(yMinor).tickSizeInner(-6).tickSizeOuter(0).tickFormat(""));
styleAxis(gyRm); gyRm.select(".domain").remove();

const gxB = svg.append("g").attr("transform",`translate(0,${B})`)
  .call(d3.axisBottom(x).tickValues(xTicks).tickSizeInner(-11).tickSizeOuter(0).tickPadding(15)
    .tickFormat((d,i)=>xTickLabels[i]));
styleAxis(gxB);
const gxBm = svg.append("g").attr("transform",`translate(0,${B})`)
  .call(d3.axisBottom(x).tickValues(xMinor).tickSizeInner(-6).tickSizeOuter(0).tickFormat(""));
styleAxis(gxBm); gxBm.select(".domain").remove();

const gxT = svg.append("g").attr("transform",`translate(0,${T})`)
  .call(d3.axisTop(x).tickValues(xTicks).tickSizeInner(-11).tickSizeOuter(0).tickFormat(""));
styleAxis(gxT);
const gxTm = svg.append("g").attr("transform",`translate(0,${T})`)
  .call(d3.axisTop(x).tickValues(xMinor).tickSizeInner(-6).tickSizeOuter(0).tickFormat(""));
styleAxis(gxTm); gxTm.select(".domain").remove();

// axis titles
svg.append("text").attr("x",(L+R)/2).attr("y",734).attr("text-anchor","middle")
  .attr("font-size",28).attr("letter-spacing","0.4px").text("Time relative to start of heat pulse (s)");
svg.append("text").attr("transform",`translate(33,${(T+B)/2}) rotate(-90)`).attr("text-anchor","middle")
  .attr("font-size",28).attr("letter-spacing","0.4px").text("Voltage (V)");

// legend
const lg = svg.append("g");
lg.append("rect").attr("x",793).attr("y",6).attr("width",300).attr("height",504)
  .attr("fill","#fff").attr("stroke","#111").attr("stroke-width",2);
let row = 0;
const rowY = k => 29 + 21.3*k;
legendGroups.forEach(g => {
  lg.append("text").attr("x",801).attr("y",rowY(row)+5.5).attr("font-size",16)
    .attr("letter-spacing","0.45px").text(g[0]);
  row++;
  for (let i=g[1]; i<g[2]; i++) {
    const yy = rowY(row);
    lg.append("line").attr("x1",801).attr("x2",839).attr("y1",yy).attr("y2",yy)
      .attr("stroke",seriesColors[i]).attr("stroke-width",1.6);
    lg.append("text").attr("x",843).attr("y",yy+5.5).attr("font-size",16)
      .attr("letter-spacing","0.45px").text(seriesNames[i]);
    row++;
  }
  row++;
});
</script>
</body></html>
